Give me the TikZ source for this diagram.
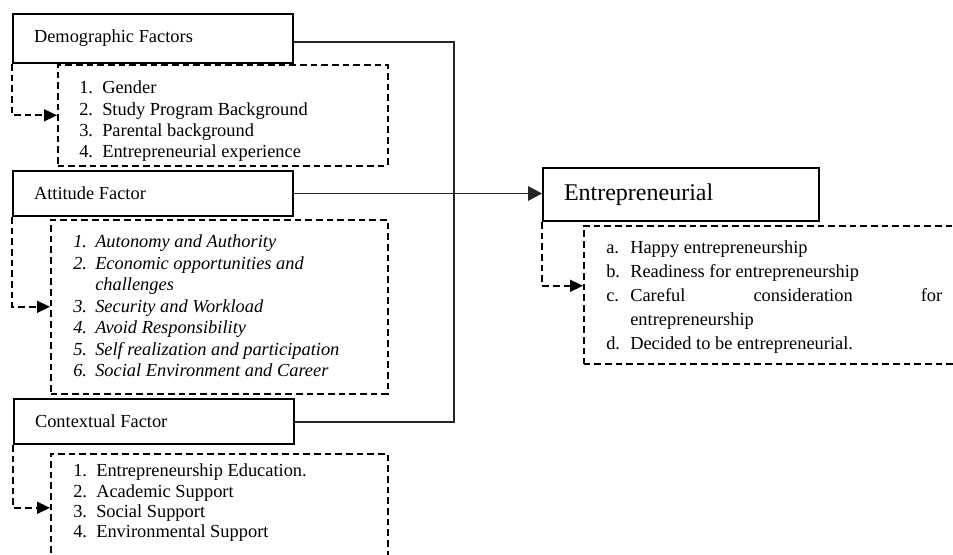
\documentclass[tikz,border=0pt]{standalone}
\usepackage{fontspec}
\setmainfont{Liberation Serif}
\usetikzlibrary{
  arrows.meta,
  positioning,
  calc
}

\begin{document}
\begin{tikzpicture}[
      x=0.75pt, y=-0.75pt,
      >={Triangle[length=9.75pt,width=9pt]},
      factor/.style={draw, line width=1.5pt, anchor=north west,
                     text width=178.5pt, inner xsep=15.75pt, inner ysep=0pt,
                     align=flush left, font=\fontsize{13.8}{16}\selectfont},
      listbox/.style={draw, line width=1.2pt, dash pattern=on 5pt off 3pt,
                      anchor=north west, inner sep=0pt},
      items/.style={anchor=base west, inner sep=0pt,
                    font=\fontsize{13.8}{16}\selectfont},
      link/.style={line width=1pt, black!85},
      feed/.style={line width=1.2pt, dash pattern=on 5pt off 3pt, ->}
  ]
      \useasboundingbox (0,0) rectangle (953,555);
      \clip (0,0) rectangle (953,555);

      % Faktor
      \node[factor, minimum height=36.75pt] (demo) at (12,13) {Demographic Factors};
      \node[factor, minimum height=33.75pt] (att) at (12,170) {Attitude Factor};
      \node[factor, minimum height=33.75pt] (ctx) at (13,398) {Contextual Factor};
      \node[factor, minimum height=39.75pt, text width=175.5pt,
            font=\fontsize{18}{21}\selectfont] (ent) at (542,167) {Entrepreneurial};

      % Kotak indikator
      \node[listbox, minimum width=247.5pt, minimum height=75.75pt] (demolist) at (57,64) {};
      \node[listbox, minimum width=252.75pt, minimum height=130.5pt] (attlist) at (50,219) {};
      \node[listbox, minimum width=252.75pt, minimum height=81pt] (ctxlist) at (50,453) {};
      \node[listbox, minimum width=286.5pt, minimum height=103.5pt] (entlist) at (583,225) {};

      \node[items] (demoitems) at (79,94) {%
          \begin{tabular}[t]{@{}p{17.25pt}@{}l@{}}
          1. & Gender\\
          2. & Study Program Background\\
          3. & Parental background\\
          4. & Entrepreneurial experience
          \end{tabular}};
      \node[items, font=\fontsize{13.8}{16.1}\selectfont\itshape] (attitems) at (73,248) {%
          \begin{tabular}[t]{@{}p{16.5pt}@{}l@{}}
          1. & Autonomy and Authority\\
          2. & Economic opportunities and\\
             & challenges\\
          3. & Security and Workload\\
          4. & Avoid Responsibility\\
          5. & Self realization and participation\\
          6. & Social Environment and Career
          \end{tabular}};
      \node[items, font=\fontsize{13.8}{15.2}\selectfont] (ctxitems) at (73,477) {%
          \begin{tabular}[t]{@{}p{17.25pt}@{}l@{}}
          1. & Entrepreneurship Education.\\
          2. & Academic Support\\
          3. & Social Support\\
          4. & Environmental Support
          \end{tabular}};
      \node[items, font=\fontsize{13.8}{18}\selectfont] (entitems) at (606,254) {%
          \begin{tabular}[t]{@{}p{18pt}@{}l@{}}
          a. & Happy entrepreneurship\\
          b. & Readiness for entrepreneurship\\
          c. & \makebox[234pt][s]{Careful consideration for}\\
             & entrepreneurship\\
          d. & Decided to be entrepreneurial.
          \end{tabular}};

      % Panah putus-putus
      \draw[feed] (demo.south west) |- (demolist.west);
      \draw[feed] (att.south west) |- (attlist.west);
      \draw[feed] (ctx.south west) |- (ctxlist.west);
      \draw[feed] (ent.south west) |- ([yshift=6.75pt]entlist.west);

      % Garis penghubung
      \coordinate (bustop) at (454,42);
      \coordinate (busbot) at (454,422);
      \draw[link] (demo.east |- bustop) -- (bustop) -- (busbot) -- (ctx.east |- busbot);
      \draw[link, line width=1.8pt] (454,138) -- (454,250);
      \draw[link, -{Triangle[length=10.5pt,width=11pt]}] (att.east) -- (att.east -| ent.west);
  \end{tikzpicture}
\end{document}
